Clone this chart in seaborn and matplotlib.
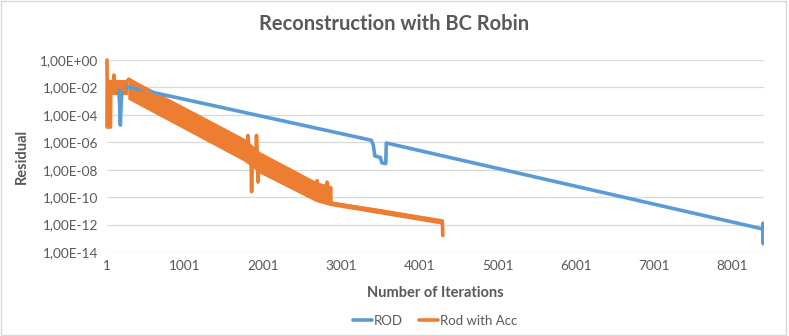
import numpy as np
import pandas as pd
import matplotlib
matplotlib.use("Agg")
import matplotlib.pyplot as plt
from matplotlib.patches import Rectangle
from matplotlib.lines import Line2D
import seaborn as sns

# ROD residual (log10)
rod_iter = [1, 4, 8, 20, 60, 150, 162, 172, 182, 195, 300, 3385, 3410, 3430,
            3500, 3520, 3570, 3577, 8380, 8397, 8400, 8403, 8405]
rod_log = [-2.3, -4.9, -2.3, -2.0, -1.9, -2.0, -3.2, -4.75, -3.2, -2.0, -2.0, -5.85, -6.2, -7.0,
           -7.1, -7.5, -7.55, -6.05, -12.3, -12.4, -11.9, -13.4, -12.6]

# Rod with Acc - trace through the middle plus spikes (log10)
acc_iter = [1, 6, 12, 25, 38, 44, 52, 70, 90, 100, 140, 200, 250, 280, 1000, 1760,
            1800, 1806, 1815, 1845, 1852, 1860, 1905, 1915, 1925, 1935, 1945, 1960,
            2680, 2690, 2700, 2810, 2820, 2835, 2870, 3500, 4295, 4300]
acc_log = [0.0, -4.9, -1.5, -2.2, -1.8, -4.9, -1.6, -2.2, -1.1, -2.3, -1.7, -2.2, -1.6, -1.4, -4.2, -6.5,
           -6.3, -5.5, -6.6, -7.0, -9.6, -7.4, -7.2, -5.5, -7.0, -8.9, -7.5, -7.4,
           -9.5, -8.8, -9.6, -9.7, -8.9, -9.8, -10.45, -11.0, -11.8, -12.8]

# oscillation envelope of Rod with Acc (log10)
early_iter = [48, 260]
early_top = [-1.55, -1.55]
early_bot = [-2.45, -2.45]
band_iter = [280, 1760, 1880, 1950, 2680, 2870]
band_top = [-1.35, -5.8, -6.4, -6.75, -8.95, -9.25]
band_bot = [-2.8, -7.3, -7.8, -8.15, -10.25, -10.55]
tail_iter = [2870, 4295]
tail_top = [-10.35, -11.65]
tail_bot = [-10.55, -11.9]

x_ticks = [1, 1001, 2001, 3001, 4001, 5001, 6001, 7001, 8001]
y_ticks = [1e0, 1e-2, 1e-4, 1e-6, 1e-8, 1e-10, 1e-12, 1e-14]
y_labels = ["1,00E+00", "1,00E-02", "1,00E-04", "1,00E-06", "1,00E-08",
            "1,00E-10", "1,00E-12", "1,00E-14"]

blue = "#5B9BD5"
orange = "#ED7D31"
grey = "#595959"

sns.set_theme(style="white")
plt.rcParams["font.family"] = ["Lato", "DejaVu Sans"]

rod = pd.DataFrame({"iter": rod_iter, "res": 10.0 ** np.array(rod_log)})
acc = pd.DataFrame({"iter": acc_iter, "res": 10.0 ** np.array(acc_log)})

fig = plt.figure(figsize=(7.89, 3.36), dpi=100)
ax = fig.add_axes([0.1356, 0.25, 0.8321, 0.5714])

sns.lineplot(data=rod, x="iter", y="res", ax=ax, color=blue, linewidth=2.6)
sns.lineplot(data=acc, x="iter", y="res", ax=ax, color=orange, linewidth=2.6, clip_on=False)
for xs, top, bot in [(early_iter, early_top, early_bot),
                     (band_iter, band_top, band_bot),
                     (tail_iter, tail_top, tail_bot)]:
    ax.fill_between(xs, 10.0 ** np.array(top), 10.0 ** np.array(bot),
                    color=orange, linewidth=1.5, edgecolor=orange)

ax.set_yscale("log")
ax.set_ylim(1e-14, 1e0)
ax.set_xlim(1, 8406)
ax.set_yticks(y_ticks)
ax.set_yticklabels(y_labels)
ax.minorticks_off()
ax.set_xticks(x_ticks)
ax.set_xticklabels([str(t) for t in x_ticks])
ax.yaxis.grid(True, color="#d9d9d9", linewidth=0.9)
ax.set_axisbelow(True)
for s in ax.spines.values():
    s.set_visible(False)
ax.tick_params(axis="both", length=0, labelsize=9.8, labelcolor=grey, pad=6)

ax.set_xlabel("Number of Iterations", fontsize=10.5, fontweight="bold", color=grey)
ax.xaxis.label.set_va("center")
ax.xaxis.set_label_coords(0.5, -0.2135)
ax.set_ylabel("Residual", fontsize=10.5, fontweight="bold", color=grey)
ax.yaxis.label.set_va("center")
ax.yaxis.set_label_coords(-0.1295, 0.5)

fig.suptitle("Reconstruction with BC Robin", x=0.5, y=0.9286, va="center",
             fontsize=14.5, fontweight="bold", color=grey)

handles = [Line2D([], [], color=blue, linewidth=2.6),
           Line2D([], [], color=orange, linewidth=2.6)]
fig.legend(handles, ["ROD", "Rod with Acc"], loc="center", bbox_to_anchor=(0.551, 1 - 321 / 336),
           ncol=2, frameon=False, fontsize=9.5, labelcolor=grey, handlelength=1.5,
           handletextpad=0.1, columnspacing=1.2)

fig.patches.append(Rectangle((0.0019, 0.003), 0.9943, 0.9926, transform=fig.transFigure,
                             fill=False, edgecolor="#d9d9d9", linewidth=1))

fig.savefig("out.png", dpi=100)
